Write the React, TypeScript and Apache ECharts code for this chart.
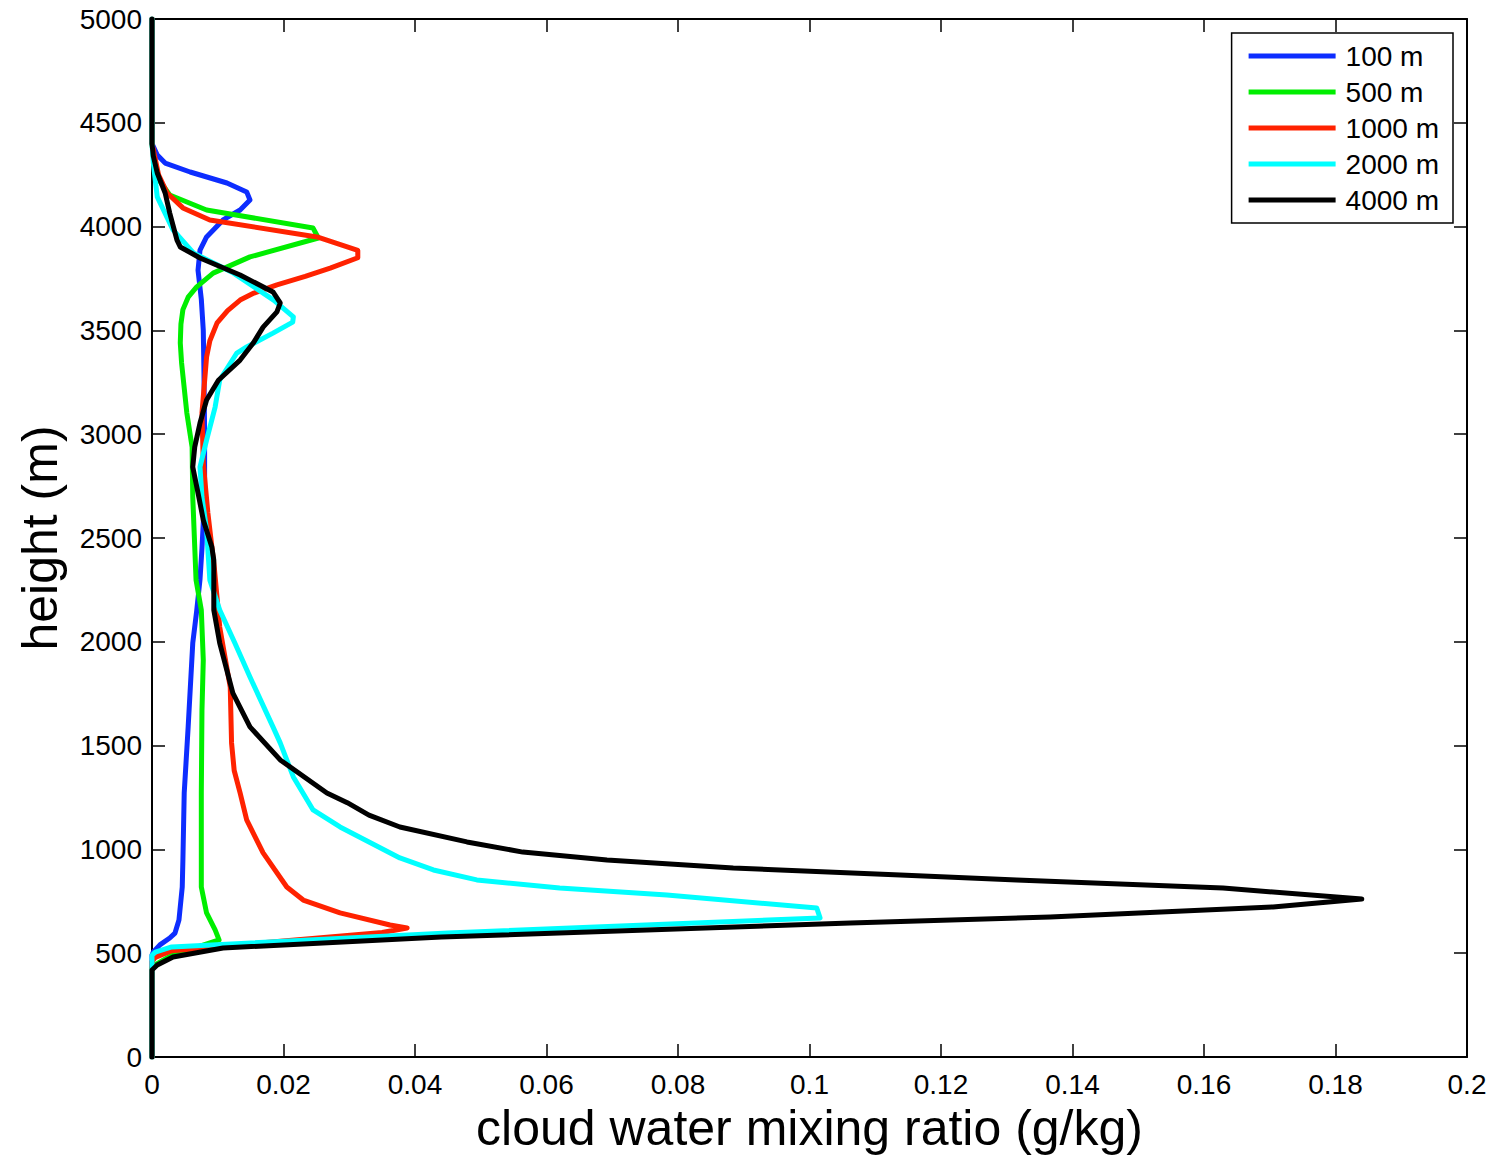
import { useEffect, useRef } from "react";
import * as echarts from "echarts";

const FONT = '"Liberation Sans", Arial, Helvetica, sans-serif';

// Vertical profiles of cloud water mixing ratio: [mixing ratio (g/kg), height (m)]
const seriesNames = ["100 m", "500 m", "1000 m", "2000 m", "4000 m"];
const seriesColors = ["#0d2dff", "#00ee00", "#ff2200", "#00ffff", "#000000"];

const profile100: [number, number][] = [
  [0, 5000], [0, 4400], [0.0008, 4345], [0.002, 4306], [0.0058, 4263], [0.0114, 4210],
  [0.0144, 4167], [0.0149, 4128], [0.0134, 4080], [0.0108, 4032], [0.0083, 3950],
  [0.0073, 3887], [0.007, 3790], [0.0075, 3650], [0.0078, 3500], [0.0079, 3300],
  [0.008, 3020], [0.008, 2700], [0.0076, 2450], [0.0073, 2300], [0.0068, 2150],
  [0.0062, 1994], [0.0055, 1590], [0.0049, 1272], [0.0047, 949], [0.0046, 819],
  [0.0041, 660], [0.0035, 597], [0.0027, 573], [0.0012, 540], [0.0002, 506],
  [0, 490], [0, 0],
];

const profile500: [number, number][] = [
  [0, 5000], [0, 4400], [0.0005, 4250], [0.0027, 4152], [0.0083, 4080], [0.0245, 3993],
  [0.0253, 3945], [0.0149, 3854], [0.0093, 3776], [0.0068, 3710], [0.0055, 3660],
  [0.0047, 3600], [0.0044, 3530], [0.0043, 3440], [0.0045, 3343], [0.0053, 3102],
  [0.0061, 2938], [0.0062, 2697], [0.0067, 2297], [0.0075, 2153], [0.0078, 1912],
  [0.0076, 1671], [0.0075, 1272], [0.0075, 949], [0.0075, 819], [0.0083, 694],
  [0.0096, 612], [0.0102, 564], [0.003, 490], [0.0008, 450], [0, 430], [0, 0],
];

const profile1000: [number, number][] = [
  [0, 5000], [0, 4400], [0.001, 4250], [0.0023, 4162], [0.0047, 4090], [0.0088, 4032],
  [0.0251, 3950], [0.0313, 3885], [0.0313, 3850], [0.0271, 3800], [0.0233, 3760],
  [0.019, 3719], [0.0155, 3680], [0.0134, 3646], [0.0115, 3595], [0.0099, 3536],
  [0.0088, 3450], [0.0083, 3372], [0.0076, 3102], [0.0078, 2861], [0.0085, 2620],
  [0.0095, 2350], [0.0103, 2071], [0.0119, 1782], [0.0121, 1513], [0.0125, 1380],
  [0.0134, 1272], [0.0144, 1142], [0.0169, 983], [0.0205, 819], [0.023, 756],
  [0.0286, 694], [0.0362, 636], [0.0388, 621], [0.035, 600], [0.003, 512],
  [0.0005, 480], [0, 460], [0, 0],
];

const profile2000: [number, number][] = [
  [0, 5000], [0, 4400], [0.0002, 4306], [0.0008, 4143], [0.0032, 3984], [0.0063, 3873],
  [0.0124, 3776], [0.0185, 3646], [0.0215, 3565], [0.0214, 3540], [0.0184, 3487],
  [0.0144, 3420], [0.0129, 3391], [0.0103, 3261], [0.0096, 3131], [0.0083, 2972],
  [0.0073, 2842], [0.0076, 2697], [0.0083, 2539], [0.0088, 2297], [0.0103, 2153],
  [0.0126, 1994], [0.0149, 1830], [0.0184, 1590], [0.0195, 1513], [0.0215, 1349],
  [0.0245, 1190], [0.0286, 1108], [0.0377, 959], [0.0428, 901], [0.0494, 853],
  [0.062, 814], [0.0783, 780], [0.1011, 718], [0.1016, 670], [0.045, 597],
  [0.003, 530], [0.0005, 505], [0, 490], [0, 0],
];

const profile4000: [number, number][] = [
  [0, 5000], [0, 4400], [0.0002, 4340], [0.0008, 4258], [0.002, 4162], [0.0027, 4065],
  [0.0038, 3935], [0.0043, 3902], [0.0073, 3849], [0.0134, 3767], [0.0184, 3685],
  [0.0195, 3632], [0.019, 3589], [0.0169, 3516], [0.0154, 3439], [0.0134, 3357],
  [0.0101, 3260], [0.0083, 3165], [0.0073, 3054], [0.0065, 2938], [0.0062, 2842],
  [0.007, 2717], [0.0078, 2587], [0.0091, 2457], [0.0094, 2394], [0.0094, 2153],
  [0.0103, 1994], [0.0123, 1753], [0.0149, 1590], [0.0195, 1431], [0.0266, 1272],
  [0.0297, 1225], [0.033, 1165], [0.0377, 1108], [0.0479, 1036], [0.0564, 987],
  [0.0692, 949], [0.0884, 910], [0.1138, 877], [0.1315, 853], [0.1629, 814],
  [0.184, 761], [0.1705, 723], [0.1366, 674], [0.1062, 645], [0.044, 578],
  [0.0108, 525], [0.0032, 482], [0.0008, 443], [0, 419], [0, 0],
];

const profiles = [profile100, profile500, profile1000, profile2000, profile4000];

const xMin = 0;
const xMax = 0.2;
const xStep = 0.02;
const yMin = 0;
const yMax = 5000;
const yStep = 500;

export default function App() {
  const ref = useRef<HTMLDivElement>(null);

  useEffect(() => {
    if (!ref.current) return;
    const chart = echarts.init(ref.current, undefined, { renderer: "svg" });

    const axisLine = { show: true, onZero: false, lineStyle: { color: "#000", width: 2 } };
    const axisTick = { show: true, inside: true, length: 13, lineStyle: { color: "#000", width: 1.5 } };
    const labelStyle = { color: "#000", fontFamily: FONT, fontSize: 28 };

    chart.setOption({
      animation: false,
      backgroundColor: "#fff",
      grid: {
        left: 152,
        right: 28,
        top: 19,
        bottom: 100,
        containLabel: false,
        outerBoundsMode: "none",
      },
      legend: {
        show: true,
        orient: "vertical",
        right: 42,
        top: 33,
        icon: "rect",
        itemWidth: 87,
        itemHeight: 5,
        itemGap: 8,
        padding: [9, 14, 9, 17],
        borderColor: "#000",
        borderWidth: 1.5,
        backgroundColor: "#fff",
        data: seriesNames,
        textStyle: {
          color: "#000",
          fontFamily: FONT,
          fontSize: 28,
          lineHeight: 28,
          padding: [0, 0, 0, 5],
        },
      },
      xAxis: [
        {
          type: "value",
          position: "bottom",
          min: xMin,
          max: xMax,
          interval: xStep,
          name: "cloud water mixing ratio (g/kg)",
          nameLocation: "middle",
          nameGap: 39,
          nameTextStyle: { color: "#000", fontFamily: FONT, fontSize: 50 },
          axisLine,
          axisTick,
          axisLabel: {
            ...labelStyle,
            margin: 13,
            formatter: (v: number) => String(+v.toFixed(2)),
          },
          splitLine: { show: false },
        },
        {
          type: "value",
          position: "top",
          min: xMin,
          max: xMax,
          interval: xStep,
          axisLine,
          axisTick,
          axisLabel: { show: false },
          splitLine: { show: false },
        },
      ],
      yAxis: [
        {
          type: "value",
          position: "left",
          min: yMin,
          max: yMax,
          interval: yStep,
          name: "height (m)",
          nameLocation: "middle",
          nameGap: 87,
          nameRotate: 90,
          nameTextStyle: { color: "#000", fontFamily: FONT, fontSize: 50 },
          axisLine,
          axisTick,
          axisLabel: { ...labelStyle, margin: 10, formatter: (v: number) => String(v) },
          splitLine: { show: false },
        },
        {
          type: "value",
          position: "right",
          min: yMin,
          max: yMax,
          interval: yStep,
          axisLine,
          axisTick,
          axisLabel: { show: false },
          splitLine: { show: false },
        },
      ],
      series: profiles.map((data, i) => ({
        name: seriesNames[i],
        type: "line",
        data,
        xAxisIndex: 0,
        yAxisIndex: 0,
        showSymbol: false,
        symbol: "none",
        clip: true,
        color: seriesColors[i],
        lineStyle: { color: seriesColors[i], width: 5, join: "round", cap: "round" },
        emphasis: { disabled: true },
        z: 2 + i,
      })),
    });

    return () => chart.dispose();
  }, []);

  return (
    <div
      ref={ref}
      style={{ position: "fixed", left: 0, top: 0, width: 1495, height: 1157, background: "#fff" }}
    />
  );
}
